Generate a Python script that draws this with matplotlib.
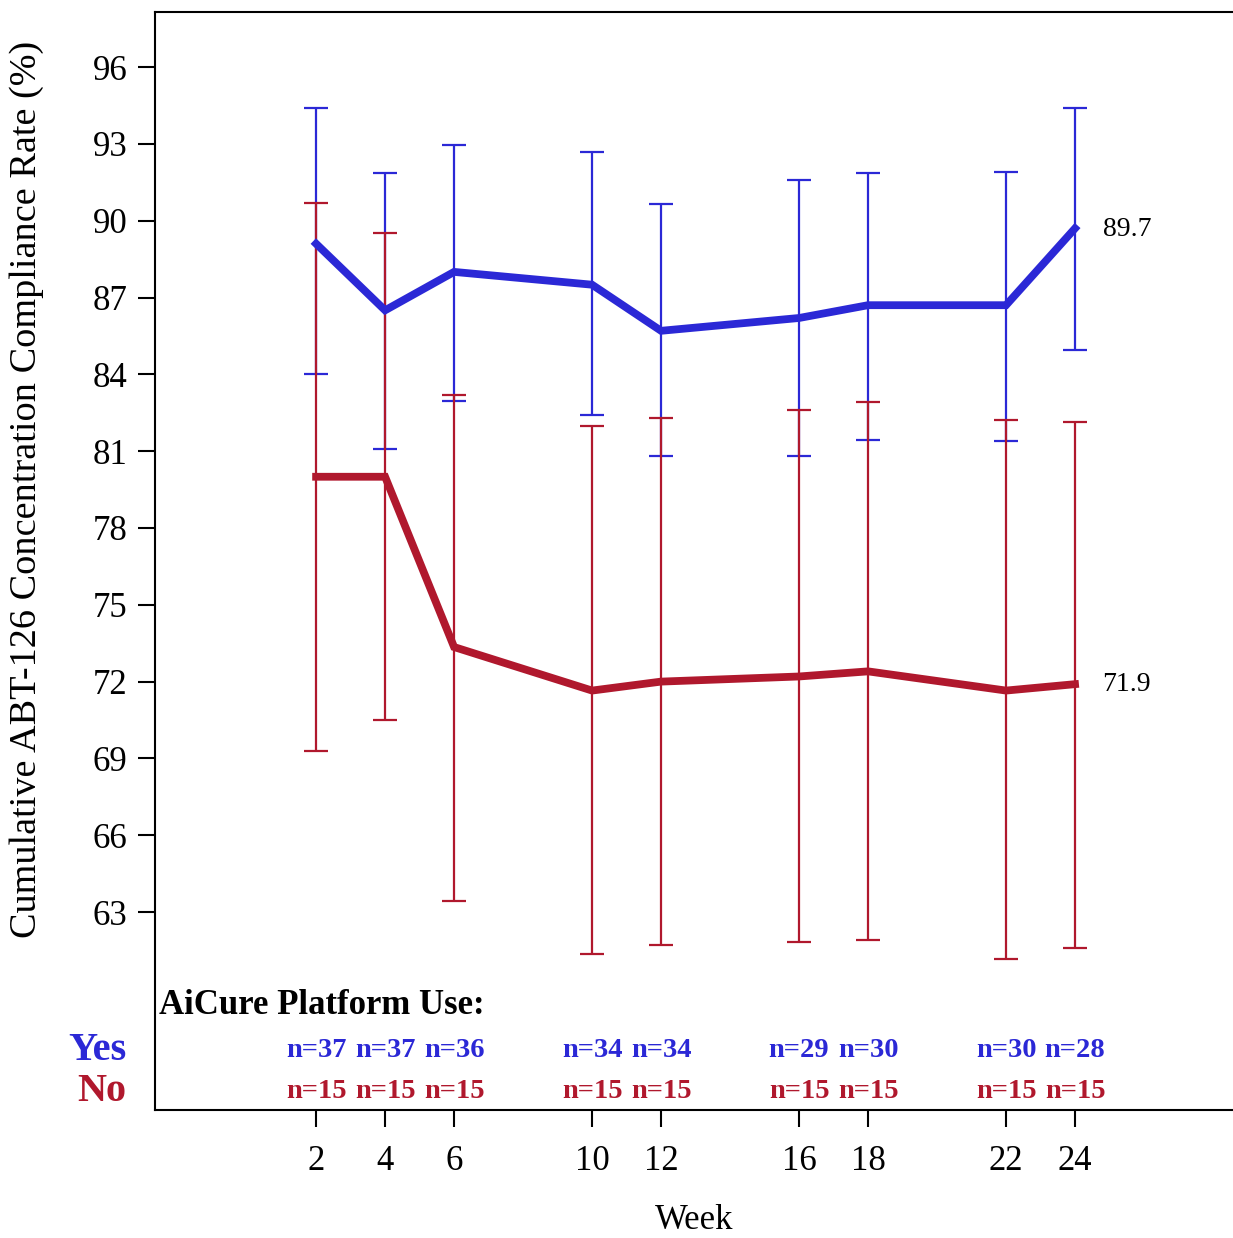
import matplotlib.pyplot as plt

# Study weeks and per-group summaries
weeks = [2, 4, 6, 10, 12, 16, 18, 22, 24]

yes_mean = [89.1, 86.5, 88.0, 87.5, 85.7, 86.2, 86.7, 86.7, 89.7]
yes_upper = [94.4, 91.85, 92.95, 92.7, 90.65, 91.6, 91.85, 91.9, 94.4]
yes_lower = [84.0, 81.1, 82.95, 82.4, 80.8, 80.8, 81.45, 81.4, 84.95]
yes_n = [37, 37, 36, 34, 34, 29, 30, 30, 28]

no_mean = [80.0, 80.0, 73.35, 71.65, 72.0, 72.2, 72.4, 71.65, 71.9]
no_upper = [90.7, 89.5, 83.2, 82.0, 82.3, 82.6, 82.9, 82.2, 82.15]
no_lower = [69.3, 70.5, 63.45, 61.35, 61.7, 61.85, 61.9, 61.15, 61.6]
no_n = [15, 15, 15, 15, 15, 15, 15, 15, 15]

y_ticks = [63, 66, 69, 72, 75, 78, 81, 84, 87, 90, 93, 96]

BLUE = '#2B28D6'
RED = '#B0182D'

plt.rcParams['font.family'] = ['Liberation Serif', 'DejaVu Serif']

fig = plt.figure(figsize=(12.33, 12.38), dpi=100)
ax = fig.add_axes([155 / 1233, 1 - 1110 / 1238, 1 - 155 / 1233, (1110 - 12) / 1238])


def draw_group(mean, lower, upper, color):
    err = [[m - lo for m, lo in zip(mean, lower)],
           [hi - m for m, hi in zip(mean, upper)]]
    ax.errorbar(weeks, mean, yerr=err, fmt='none', ecolor=color,
                elinewidth=1.6, capsize=8.5, capthick=1.6, zorder=2)
    ax.plot(weeks, mean, color=color, linewidth=5.6, zorder=3,
            solid_joinstyle='miter')


draw_group(yes_mean, yes_lower, yes_upper, BLUE)
draw_group(no_mean, no_lower, no_upper, RED)

# Final values at the last visit
ax.text(weeks[-1] + 0.8, yes_mean[-1] - 0.05, f'{yes_mean[-1]:.1f}', fontsize=20,
        va='center', ha='left')
ax.text(weeks[-1] + 0.8, no_mean[-1], f'{no_mean[-1]:.1f}', fontsize=20,
        va='center', ha='left')

# Sample size table inside the plot area
ax.text(-2.55, 59.35, 'AiCure Platform Use:', fontsize=25, fontweight='bold',
        va='center', ha='left')
for w, n in zip(weeks, yes_n):
    ax.text(w, 57.6, f'n={n}', color=BLUE, fontsize=20.5, fontweight='bold',
            ha='center', va='center')
for w, n in zip(weeks, no_n):
    ax.text(w, 56.0, f'n={n}', color=RED, fontsize=20.5, fontweight='bold',
            ha='center', va='center')
ax.text(-3.5, 57.6, 'Yes', color=BLUE, fontsize=29, fontweight='bold',
        ha='right', va='center', clip_on=False)
ax.text(-3.5, 56.0, 'No', color=RED, fontsize=29, fontweight='bold',
        ha='right', va='center', clip_on=False)

ax.set_xlim(-2.67, 28.58)
ax.set_ylim(55.27, 98.15)
ax.set_xticks(weeks)
ax.set_yticks(y_ticks)
ax.tick_params(axis='both', labelsize=25, length=12, width=1.5, direction='out')
ax.tick_params(axis='x', pad=13)
ax.tick_params(axis='y', pad=8)

for side in ['left', 'bottom', 'top']:
    ax.spines[side].set_linewidth(1.5)
ax.spines['right'].set_visible(False)

ax.set_xlabel('Week', fontsize=25, labelpad=19)
ax.set_ylabel('Cumulative ABT-126 Concentration Compliance Rate (%)', fontsize=27.5)
ax.yaxis.set_label_coords(-0.103, 0.565)

fig.savefig('out.png', dpi=100)
